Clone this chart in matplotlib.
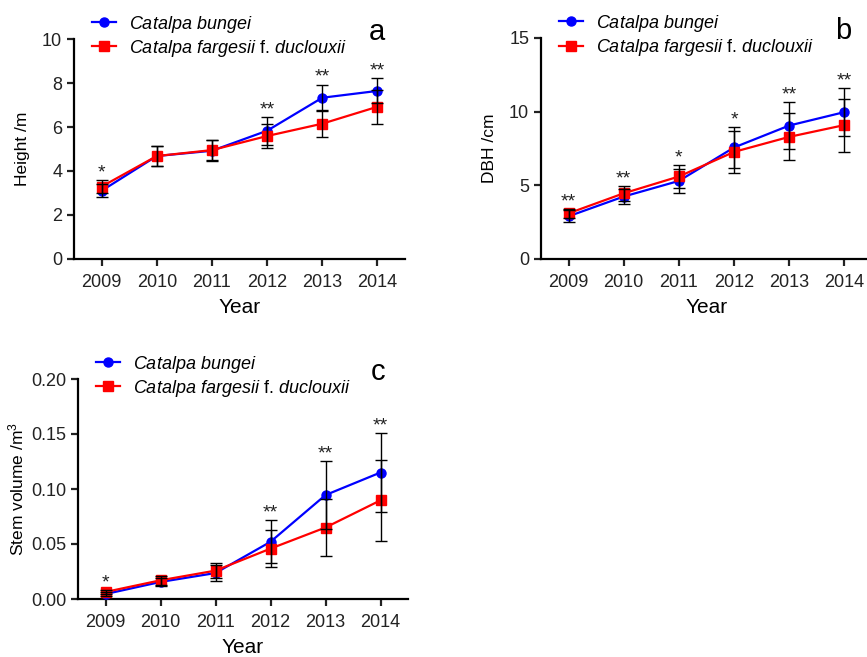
import matplotlib
matplotlib.use('Agg')
import matplotlib.pyplot as plt
import numpy as np

plt.rcParams['font.family'] = ['Liberation Sans', 'DejaVu Sans']
plt.rcParams['mathtext.fontset'] = 'custom'
plt.rcParams['mathtext.rm'] = 'Liberation Sans'
plt.rcParams['mathtext.it'] = 'Liberation Sans:italic'

years = [2009, 2010, 2011, 2012, 2013, 2014]

# a - hoehe
height_bungei = [3.1, 4.68, 4.92, 5.83, 7.33, 7.64]
height_bungei_err = [0.3, 0.47, 0.47, 0.64, 0.6, 0.57]
height_farg = [3.29, 4.68, 4.95, 5.59, 6.15, 6.92]
height_farg_err = [0.3, 0.47, 0.47, 0.55, 0.62, 0.78]
height_sig = ['*', '', '', '**', '**', '**']

# b - DBH
dbh_bungei = [2.9, 4.24, 5.3, 7.57, 9.06, 9.97]
dbh_bungei_err = [0.4, 0.5, 0.8, 1.4, 1.57, 1.65]
dbh_farg = [3.1, 4.46, 5.6, 7.27, 8.29, 9.09]
dbh_farg_err = [0.3, 0.5, 0.8, 1.45, 1.6, 1.8]
dbh_sig = ['**', '**', '*', '*', '**', '**']

# c - volume
vol_bungei = [0.0045, 0.0155, 0.0236, 0.052, 0.0945, 0.115]
vol_bungei_err = [0.002, 0.004, 0.007, 0.0195, 0.031, 0.036]
vol_farg = [0.0064, 0.017, 0.0258, 0.0458, 0.065, 0.0897]
vol_farg_err = [0.002, 0.004, 0.007, 0.017, 0.026, 0.037]
vol_sig = ['*', '', '', '**', '**', '**']

lab_bungei = r'$\it{Catalpa\ bungei}$'
lab_farg = r'$\it{Catalpa\ fargesii}$ f. $\it{duclouxii}$'

W, H = 867, 657
fig = plt.figure(figsize=(W / 100, H / 100), dpi=100)


def px_axes(l, t, r, b):
    return fig.add_axes([l / W, 1 - b / H, (r - l) / W, (b - t) / H])


def panel(ax, yb, yb_err, yf, yf_err, sig, ylim, yticks, ylabel, letter,
          yfmt, letter_x, ypad=9):
    ax.plot(years, yb, '-o', color='#0000ff', lw=1.6, ms=6.5, zorder=3,
            label=lab_bungei)
    ax.plot(years, yf, '-s', color='#ff0000', lw=1.6, ms=6.5, zorder=3,
            label=lab_farg)
    ax.errorbar(years, yb, yerr=yb_err, fmt='none', ecolor='black',
                elinewidth=1, capsize=4.5, capthick=1, zorder=4)
    ax.errorbar(years, yf, yerr=yf_err, fmt='none', ecolor='black',
                elinewidth=1, capsize=4.5, capthick=1, zorder=4)
    # sterne ueber dem hoechsten fehlerbalken
    for x, b, be, f, fe, s in zip(years, yb, yb_err, yf, yf_err, sig):
        if s:
            top = max(b + be, f + fe)
            ax.annotate(s, (x, top), xytext=(0, -1),
                        textcoords='offset points', ha='center',
                        va='bottom', fontsize=14, color='#222222')
    ax.set_xlim(2008.5, 2014.5)
    ax.set_ylim(*ylim)
    ax.set_xticks(years)
    ax.set_yticks(yticks)
    ax.set_yticklabels([yfmt.format(v) for v in yticks])
    for side in ['top', 'right']:
        ax.spines[side].set_visible(False)
    for side in ['left', 'bottom']:
        ax.spines[side].set_linewidth(1.6)
    ax.tick_params(axis='both', width=1.6, length=5, labelsize=13,
                   colors='#222222')
    ax.tick_params(axis='x', pad=6)
    ax.set_xlabel('Year', fontsize=15, labelpad=5)
    ax.set_ylabel(ylabel, fontsize=12.5, labelpad=ypad)
    ax.text(letter_x, 1.03, letter, transform=ax.transAxes, ha='center',
            va='center', fontsize=21)
    ax.legend(loc='lower left', bbox_to_anchor=(0.055, 0.91),
              frameon=False, fontsize=13, handlelength=1.3,
              handletextpad=0.75, labelspacing=0.18, borderpad=0,
              borderaxespad=0)


ax_a = px_axes(74, 39, 405, 259)
panel(ax_a, height_bungei, height_bungei_err, height_farg, height_farg_err,
      height_sig, (0, 10), [0, 2, 4, 6, 8, 10], 'Height /m', 'a', '{:g}',
      0.915)

ax_b = px_axes(541, 38, 872, 259)
panel(ax_b, dbh_bungei, dbh_bungei_err, dbh_farg, dbh_farg_err,
      dbh_sig, (0, 15), [0, 5, 10, 15], 'DBH /cm', 'b', '{:g}', 0.912)

ax_c = px_axes(78, 379, 408, 599)
panel(ax_c, vol_bungei, vol_bungei_err, vol_farg, vol_farg_err,
      vol_sig, (0, 0.2), [0, 0.05, 0.10, 0.15, 0.20],
      r'Stem volume /m$^3$', 'c', '{:.2f}', 0.909, ypad=3)

fig.savefig('out.png', dpi=100)
